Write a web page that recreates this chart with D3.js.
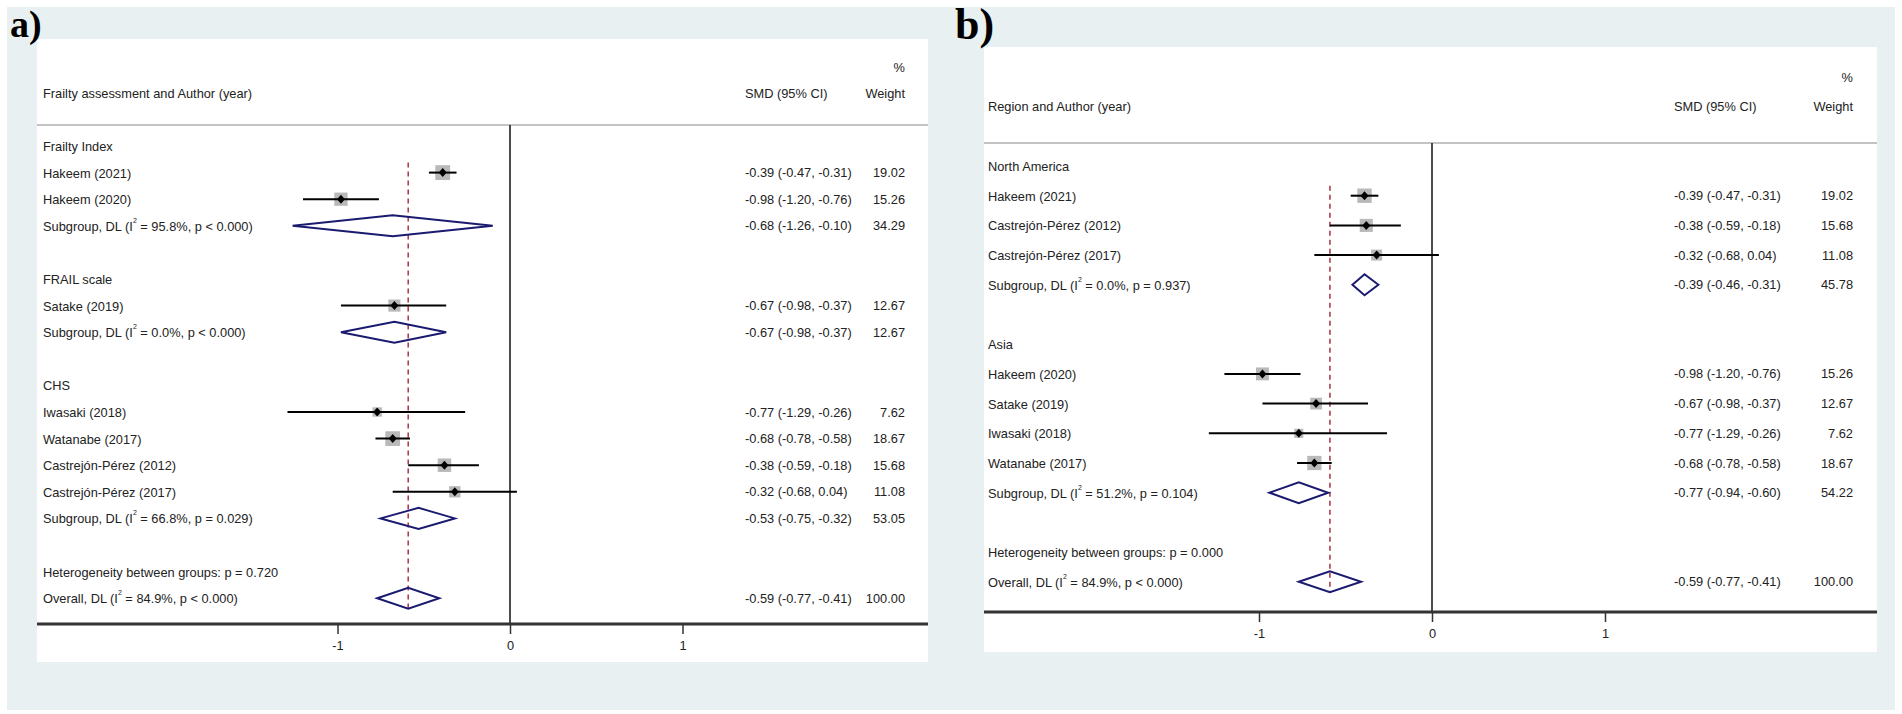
<!DOCTYPE html>
<html>
<head>
<meta charset="utf-8">
<script src="https://cdn.jsdelivr.net/npm/d3@7"></script>
<style>
body{margin:0;background:#fff}
text{font-family:"Liberation Sans",Arial,sans-serif;fill:#222}
</style>
</head>
<body>
<svg id="chart" width="1902" height="714"></svg>
<script>
// ---- panel a: by frailty assessment ----
const aLabels = ["Frailty Index","Hakeem (2021)","Hakeem (2020)","Subgroup, DL (I^2 = 95.8%, p < 0.000)","",
  "FRAIL scale","Satake (2019)","Subgroup, DL (I^2 = 0.0%, p < 0.000)","",
  "CHS","Iwasaki (2018)","Watanabe (2017)","Castrejón-Pérez (2012)","Castrejón-Pérez (2017)","Subgroup, DL (I^2 = 66.8%, p = 0.029)","",
  "Heterogeneity between groups: p = 0.720","Overall, DL (I^2 = 84.9%, p < 0.000)"];
const aKind = ["head","study","study","sub","blank","head","study","sub","blank","head","study","study","study","study","sub","blank","het","sub"];
const aEst  = [null,-0.39,-0.98,-0.68,null,null,-0.67,-0.67,null,null,-0.77,-0.68,-0.38,-0.32,-0.53,null,null,-0.59];
const aLow  = [null,-0.47,-1.20,-1.26,null,null,-0.98,-0.98,null,null,-1.29,-0.78,-0.59,-0.68,-0.75,null,null,-0.77];
const aHigh = [null,-0.31,-0.76,-0.10,null,null,-0.37,-0.37,null,null,-0.26,-0.58,-0.18,0.04,-0.32,null,null,-0.41];
const aWeight = [null,19.02,15.26,34.29,null,null,12.67,12.67,null,null,7.62,18.67,15.68,11.08,53.05,null,null,100.00];

// ---- panel b: by region ----
const bLabels = ["North America","Hakeem (2021)","Castrejón-Pérez (2012)","Castrejón-Pérez (2017)","Subgroup, DL (I^2 = 0.0%, p = 0.937)","",
  "Asia","Hakeem (2020)","Satake (2019)","Iwasaki (2018)","Watanabe (2017)","Subgroup, DL (I^2 = 51.2%, p = 0.104)","",
  "Heterogeneity between groups: p = 0.000","Overall, DL (I^2 = 84.9%, p < 0.000)"];
const bKind = ["head","study","study","study","sub","blank","head","study","study","study","study","sub","blank","het","sub"];
const bEst  = [null,-0.39,-0.38,-0.32,-0.39,null,null,-0.98,-0.67,-0.77,-0.68,-0.77,null,null,-0.59];
const bLow  = [null,-0.47,-0.59,-0.68,-0.46,null,null,-1.20,-0.98,-1.29,-0.78,-0.94,null,null,-0.77];
const bHigh = [null,-0.31,-0.18,0.04,-0.31,null,null,-0.76,-0.37,-0.26,-0.58,-0.60,null,null,-0.41];
const bWeight = [null,19.02,15.68,11.08,45.78,null,null,15.26,12.67,7.62,18.67,54.22,null,null,100.00];

const tickVals = [-1, 0, 1];
const pooled = -0.59;
const fs = "12.8px";

const svg = d3.select("#chart");
svg.append("rect").attr("x",7).attr("y",7).attr("width",1888).attr("height",703).attr("fill","#e8f0f2");

function drawPanel(c, labels, kind, est, low, high, weight){
  const g = svg.append("g");
  g.append("rect").attr("x",c.x0).attr("y",c.top).attr("width",c.x1-c.x0).attr("height",c.bottom-c.top).attr("fill","#fff");
  g.append("text").text(c.tag).attr("x",c.tagX).attr("y",c.tagY)
    .style("font-family","'Liberation Serif','Times New Roman',serif").style("font-weight","bold")
    .style("font-size",c.tagSize+"px").style("fill","#000");

  const x = d3.scaleLinear().domain([-1,1]).range([c.xm1,c.xp1]);
  const y = d3.scaleLinear().domain([0,labels.length-1]).range([c.row0,c.row0+c.step*(labels.length-1)]);

  // header
  g.append("text").text("%").attr("x",c.wX).attr("y",c.pctY).attr("text-anchor","end").attr("dominant-baseline","central").style("font-size",fs);
  g.append("text").text("Weight").attr("x",c.wX).attr("y",c.headY).attr("text-anchor","end").attr("dominant-baseline","central").style("font-size",fs);
  g.append("text").text("SMD (95% CI)").attr("x",c.ciX).attr("y",c.headY).attr("dominant-baseline","central").style("font-size",fs);
  g.append("text").text(c.title).attr("x",c.labelX).attr("y",c.headY).attr("dominant-baseline","central").style("font-size",fs);
  g.append("line").attr("x1",c.x0).attr("x2",c.x1).attr("y1",c.sepY).attr("y2",c.sepY).attr("stroke","#c4c4c4").attr("stroke-width",2);

  // zero line and pooled line
  g.append("line").attr("x1",x(0)).attr("x2",x(0)).attr("y1",c.sepY).attr("y2",c.axisY).attr("stroke","#111").attr("stroke-width",1.5);
  g.append("line").attr("x1",x(pooled)).attr("x2",x(pooled)).attr("y1",y(1)-10).attr("y2",y(labels.length-1)+11)
    .attr("stroke","#a8404f").attr("stroke-width",1.6).attr("stroke-dasharray","5,4");

  const rows = labels.map((l,i)=>({l, k:kind[i], e:est[i], lo:low[i], hi:high[i], w:weight[i], i}));

  // labels with superscript 2
  rows.forEach(r=>{
    if(!r.l) return;
    const t = g.append("text").attr("x",c.labelX).attr("y",y(r.i)).attr("dominant-baseline","central").style("font-size",fs);
    const parts = r.l.split("^2");
    t.append("tspan").text(parts[0]);
    if(parts.length>1){
      t.append("tspan").text("2").attr("dy",-6).style("font-size","7px");
      t.append("tspan").text(parts[1]).attr("dy",6);
    }
  });

  const st = rows.filter(r=>r.k==="study");
  const sb = rows.filter(r=>r.k==="sub");

  g.selectAll(".sq").data(st).join("rect")
    .attr("x",d=>x(d.e)-c.sq*Math.sqrt(d.w)/2).attr("y",d=>y(d.i)-c.sq*Math.sqrt(d.w)/2)
    .attr("width",d=>c.sq*Math.sqrt(d.w)).attr("height",d=>c.sq*Math.sqrt(d.w)).attr("fill","#b9b9b9");
  g.selectAll(".ci").data(st).join("line")
    .attr("x1",d=>x(d.lo)).attr("x2",d=>x(d.hi)).attr("y1",d=>y(d.i)).attr("y2",d=>y(d.i))
    .attr("stroke","#000").attr("stroke-width",2);
  g.selectAll(".pt").data(st).join("path")
    .attr("d",d=>`M${x(d.e)-4},${y(d.i)}L${x(d.e)},${y(d.i)-4.5}L${x(d.e)+4},${y(d.i)}L${x(d.e)},${y(d.i)+4.5}Z`)
    .attr("fill","#000");
  g.selectAll(".dm").data(sb).join("path")
    .attr("d",d=>`M${x(d.lo)},${y(d.i)}L${x(d.e)},${y(d.i)-10.5}L${x(d.hi)},${y(d.i)}L${x(d.e)},${y(d.i)+10.5}Z`)
    .attr("fill","none").attr("stroke","#1a1a70").attr("stroke-width",2);

  // right-hand text columns
  const num = rows.filter(r=>r.e!==null);
  g.selectAll(".cit").data(num).join("text")
    .text(d=>`${d.e.toFixed(2)} (${d.lo.toFixed(2)}, ${d.hi.toFixed(2)})`)
    .attr("x",c.ciX).attr("y",d=>y(d.i)).attr("dominant-baseline","central").style("font-size",fs);
  g.selectAll(".wt").data(num).join("text")
    .text(d=>d.w.toFixed(2))
    .attr("x",c.wX).attr("y",d=>y(d.i)).attr("text-anchor","end").attr("dominant-baseline","central").style("font-size",fs);

  // axis
  g.append("line").attr("x1",c.x0).attr("x2",c.x1).attr("y1",c.axisY).attr("y2",c.axisY).attr("stroke","#333").attr("stroke-width",3);
  const ax = g.append("g").attr("transform",`translate(0,${c.axisY})`)
    .call(d3.axisBottom(x).tickValues(tickVals).tickSize(10).tickPadding(7).tickFormat(d=>String(d)));
  ax.select(".domain").remove();
  ax.selectAll(".tick line").attr("stroke","#333").attr("stroke-width",1.5);
  ax.selectAll(".tick text").style("font-size",fs).style("font-family","'Liberation Sans',Arial,sans-serif").attr("fill","#222");
}

drawPanel({x0:37,x1:928,top:39,bottom:662,tag:"a)",tagX:10,tagY:37,tagSize:38,
  labelX:43,ciX:745,wX:905,pctY:67,headY:93,sepY:125,row0:146,step:26.6,axisY:624,
  xm1:337.5,xp1:682.5,sq:3.4,title:"Frailty assessment and Author (year)"},
  aLabels,aKind,aEst,aLow,aHigh,aWeight);

drawPanel({x0:984,x1:1877,top:47,bottom:652,tag:"b)",tagX:955,tagY:39,tagSize:44,
  labelX:988,ciX:1674,wX:1853,pctY:77,headY:106,sepY:143,row0:166,step:29.7,axisY:612,
  xm1:1259,xp1:1605,sq:3.3,title:"Region and Author (year)"},
  bLabels,bKind,bEst,bLow,bHigh,bWeight);
</script>
</body>
</html>
